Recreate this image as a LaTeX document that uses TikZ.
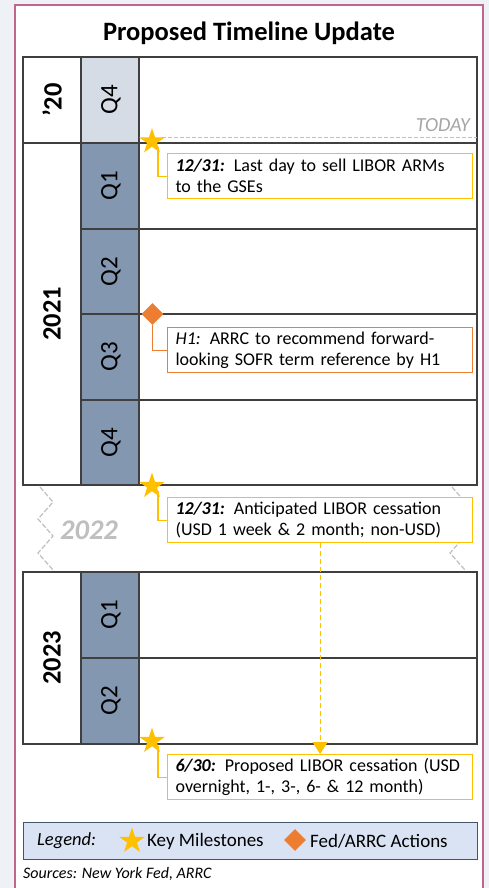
\documentclass[tikz,border=0pt]{standalone}
\usepackage{fontspec}
\setmainfont{Carlito}
\usetikzlibrary{shapes.geometric,arrows.meta}

\definecolor{pagebg}{HTML}{EEF2F7}
\definecolor{framepink}{HTML}{C0668E}
\definecolor{gridline}{HTML}{3F3F3F}
\definecolor{qdark}{HTML}{8497B0}
\definecolor{qlight}{HTML}{D6DCE5}
\definecolor{gold}{HTML}{FFC000}
\definecolor{fedorange}{HTML}{ED7D31}
\definecolor{legendfill}{HTML}{DAE3F3}
\definecolor{legendline}{HTML}{44546A}
\definecolor{faint}{HTML}{A6A6A6}
\definecolor{zigcol}{HTML}{BFBFBF}

\tikzset{
  gridrule/.style={draw=gridline, line width=1.2pt},
  yearlabel/.style={rotate=90, font=\bfseries\fontsize{26.5}{30}\selectfont},
  qlabel/.style={rotate=90, font=\fontsize{25}{28}\selectfont},
  callout/.style={draw=#1, line width=1.2pt, fill=white, anchor=north west,
    text width=289pt, inner xsep=8pt, inner ysep=1pt, minimum height=45pt,
    align=left, font=\fontsize{18}{21}\selectfont},
  leader/.style={draw=#1, line width=1.2pt},
  milestone/.style={star, star points=5, star point ratio=2.618, fill=gold,
    draw=none, minimum size=27pt, inner sep=0pt},
  fedaction/.style={diamond, aspect=1, fill=fedorange, draw=none,
    minimum width=22pt, minimum height=22pt, inner sep=0pt},
  zig/.style={draw=zigcol, line width=1.2pt, dash pattern=on 5pt off 2pt},
  legendtext/.style={anchor=west, inner sep=0pt, font=\fontsize{19}{22}\selectfont},
}

\begin{document}
\begin{tikzpicture}[x=1pt, y=-1pt]
\useasboundingbox (0,0) rectangle (489,888);
\clip (0,0) rectangle (489,888);
\fill[pagebg] (0,0) rectangle (489,888);
\draw[framepink, line width=2pt, fill=white] (15,5) rectangle (483,900);

% heading
\node[font=\bfseries\fontsize{26.5}{30}\selectfont] (title) at (249,33) {Proposed Timeline Update};

% quarter column shading
\fill[qlight] (81,57) rectangle (139,143);
\fill[qdark] (81,143) rectangle (139,485);
\fill[qdark] (81,572) rectangle (139,744);

% 2020 / 2021 grid
\draw[gridrule] (23,57) rectangle (477,485);
\draw[gridrule] (23,143) -- (477,143);
\draw[gridrule] (81,229) -- (477,229);
\draw[gridrule] (81,314) -- (477,314);
\draw[gridrule] (81,400) -- (477,400);
\draw[gridrule] (81,57) -- (81,485);
\draw[gridrule] (139,57) -- (139,485);

% 2023 grid
\draw[gridrule] (23,572) rectangle (477,744);
\draw[gridrule] (81,658) -- (477,658);
\draw[gridrule] (81,572) -- (81,744);
\draw[gridrule] (139,572) -- (139,744);

% year and quarter labels
\node[yearlabel] (y20) at (52,100) {’20};
\node[yearlabel] (y21) at (52,314) {2021};
\node[yearlabel] (y23) at (52,658) {2023};
\node[qlabel] (q20d) at (111,100) {Q4};
\node[qlabel] (q21a) at (111,186) {Q1};
\node[qlabel] (q21b) at (111,271.5) {Q2};
\node[qlabel] (q21c) at (111,357) {Q3};
\node[qlabel] (q21d) at (111,442.5) {Q4};
\node[qlabel] (q23a) at (111,615) {Q1};
\node[qlabel] (q23b) at (111,701) {Q2};

% today marker
\coordinate (todayL) at (162,137);
\coordinate (todayR) at (477,137);
\draw[zigcol, line width=1pt, dash pattern=on 4pt off 2pt] (todayL) -- (todayR);
\node[anchor=south east, inner sep=1pt, text=faint,
  font=\itshape\fontsize{20}{23}\selectfont] (today) at (471,133) {TODAY};

% skipped year 2022
\draw[zig] (40,487) -- (53,502) -- (38,519) -- (53,536) -- (38,553) -- (53,570);
\draw[zig] (452,487) -- (465,502) -- (450,519) -- (465,536) -- (450,553) -- (465,570);
\node[text=zigcol, font=\bfseries\itshape\fontsize{28.5}{32}\selectfont] (y22) at (89,530) {2022};

% callouts
\node[callout=gold] (box1) at (167,153)
  {\textbf{\textit{12/31:}} Last day to sell LIBOR ARMs\\to the GSEs};
\node[callout=fedorange] (box2) at (167,327)
  {\textit{H1:} ARRC to recommend forward-\\looking SOFR term reference by H1};
\node[callout=gold] (box3) at (167,497)
  {\textbf{\textit{12/31:}} Anticipated LIBOR cessation\\(USD 1 week \& 2 month; non-USD)};
\node[callout=gold] (box4) at (167,754)
  {\textbf{\textit{6/30:}} Proposed LIBOR cessation (USD\\overnight, 1-, 3-, 6- \& 12 month)};

% markers
\node[milestone] (star1) at (152,141.5) {};
\node[fedaction] (dia1) at (152.5,314) {};
\node[milestone] (star3) at (152,486) {};
\node[milestone] (star4) at (152,741) {};

% leaders from markers to callouts
\draw[leader=gold] ([xshift=6pt]star1.south) |- (box1.west);
\draw[leader=fedorange] (dia1.south) |- (box2.west);
\draw[leader=gold] ([xshift=6pt]star3.south) |- (box3.west);
\draw[leader=gold] ([xshift=6pt]star4.south) |- (box4.west);
\draw[gold, line width=1.2pt, dash pattern=on 5pt off 3pt,
  -{Triangle[width=15pt,length=12pt]}] (box3.south) -- (box4.north);

% legend
\node[draw=legendline, fill=legendfill, line width=1.3pt, anchor=north west,
  minimum width=454pt, minimum height=37pt, inner sep=0pt] (legend) at (23,822) {};
\node[legendtext, font=\itshape\fontsize{18.5}{22}\selectfont] (legLabel) at (37,841) {Legend:};
\node[milestone] (legStar) at (132,841) {};
\node[legendtext] (legStarTxt) at (147,841) {Key Milestones};
\node[fedaction] (legDia) at (295,840) {};
\node[legendtext] (legDiaTxt) at (310,841) {Fed/ARRC Actions};

% source line
\node[anchor=west, inner sep=0pt, font=\itshape\fontsize{16}{19}\selectfont] (sources) at (23,874) {Sources: New York Fed, ARRC};
\end{tikzpicture}
\end{document}
